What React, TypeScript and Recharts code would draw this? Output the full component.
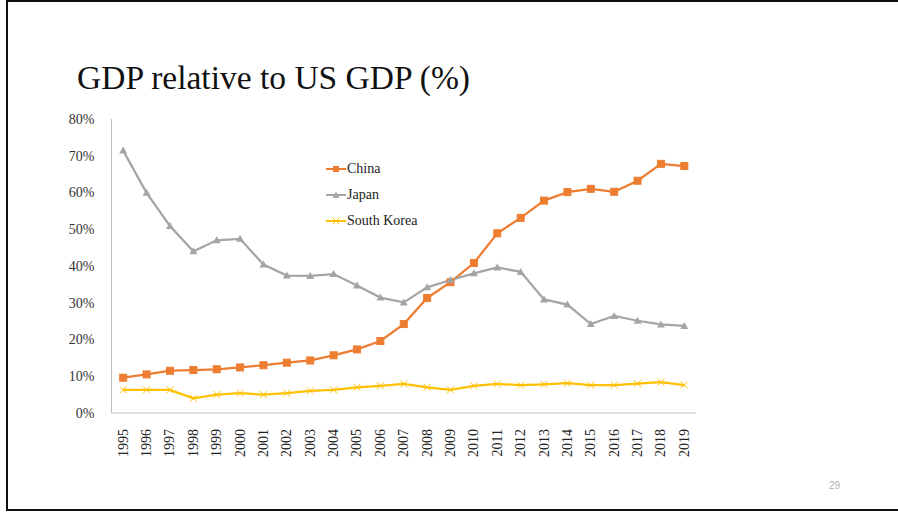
import React from "react";
import { LineChart, Line, XAxis, YAxis } from "recharts";

const years = [1995, 1996, 1997, 1998, 1999, 2000, 2001, 2002, 2003, 2004, 2005, 2006, 2007, 2008, 2009, 2010, 2011, 2012, 2013, 2014, 2015, 2016, 2017, 2018, 2019];
const china = [9.6, 10.5, 11.5, 11.7, 11.9, 12.4, 13.0, 13.7, 14.3, 15.7, 17.3, 19.6, 24.2, 31.3, 35.6, 40.8, 48.9, 53.1, 57.8, 60.1, 61.0, 60.2, 63.2, 67.8, 67.2];
const japan = [71.4, 59.9, 50.9, 44.0, 47.0, 47.4, 40.4, 37.4, 37.3, 37.8, 34.7, 31.4, 30.1, 34.2, 36.2, 38.0, 39.6, 38.4, 30.9, 29.5, 24.2, 26.4, 25.1, 24.1, 23.7];
const korea = [6.3, 6.3, 6.3, 4.0, 5.0, 5.4, 5.0, 5.4, 6.0, 6.3, 7.0, 7.4, 7.9, 7.0, 6.3, 7.4, 7.9, 7.6, 7.8, 8.1, 7.6, 7.6, 8.0, 8.4, 7.6];
const yTicks = [0, 10, 20, 30, 40, 50, 60, 70, 80];
const titleText = "GDP relative to US GDP (%)";
const pageNumber = "29";

const data = years.map((y, i) => ({ year: y, China: china[i], Japan: japan[i], "South Korea": korea[i] }));
const boundaryTicks = [years[0] - 0.5, ...years.map((y) => y + 0.5)];

const C_CHINA = "#ED7D31";
const C_JAPAN = "#A5A5A5";
const C_KOREA = "#FFC000";
const FONT = "'Liberation Serif', 'Times New Roman', serif";

const SquareDot = (props: any) => {
  const { cx, cy, index } = props;
  if (cx == null || cy == null) return <g key={index} />;
  return <rect key={index} x={cx - 3.5} y={cy - 3.5} width={7} height={7} fill={C_CHINA} stroke={C_CHINA} strokeWidth={1} />;
};
const TriDot = (props: any) => {
  const { cx, cy, index } = props;
  if (cx == null || cy == null) return <g key={index} />;
  return <polygon key={index} points={`${cx},${cy - 4} ${cx - 4},${cy + 3} ${cx + 4},${cy + 3}`} fill={C_JAPAN} />;
};
const XDot = (props: any) => {
  const { cx, cy, index } = props;
  if (cx == null || cy == null) return <g key={index} />;
  return (
    <path key={index} d={`M${cx - 3.5},${cy - 3.5}L${cx + 3.5},${cy + 3.5}M${cx - 3.5},${cy + 3.5}L${cx + 3.5},${cy - 3.5}`} stroke={C_KOREA} strokeWidth={1} fill="none" />
  );
};

const YearTick = (props: any) => {
  const { x, y, payload } = props;
  return (
    <text x={x} y={y + 2} transform={`rotate(-90, ${x}, ${y + 2})`} textAnchor="end" dominantBaseline="central" fontSize={14} fill="#222" fontFamily={FONT}>
      {payload.value}
    </text>
  );
};

const legendItems = [
  { name: "China", color: C_CHINA, kind: "square" },
  { name: "Japan", color: C_JAPAN, kind: "tri" },
  { name: "South Korea", color: C_KOREA, kind: "x" },
];

const LegendBox = () => (
  <div style={{ position: "absolute", left: 326, top: 156, fontFamily: FONT, fontSize: 14, color: "#222" }}>
    {legendItems.map((it) => (
      <div key={it.name} style={{ display: "flex", alignItems: "center", height: 26 }}>
        <svg width={20} height={10} style={{ marginRight: 1 }}>
          <line x1={0} y1={5} x2={20} y2={5} stroke={it.color} strokeWidth={2} />
          {it.kind === "square" && <rect x={7} y={2} width={6} height={6} fill={it.color} />}
          {it.kind === "tri" && <polygon points="10,1.5 6.5,8 13.5,8" fill={it.color} />}
          {it.kind === "x" && <path d="M6.5,1.5L13.5,8.5M6.5,8.5L13.5,1.5" stroke={it.color} strokeWidth={1} />}
        </svg>
        <span>{it.name}</span>
      </div>
    ))}
  </div>
);

export default function App() {
  return (
    <div style={{ position: "absolute", left: 0, top: 0, width: 898, height: 512, background: "#fff", overflow: "hidden" }}>
      <div style={{ position: "absolute", left: 6, top: 0, width: 900, height: 507, borderLeft: "2px solid #111", borderTop: "2px solid #111", borderBottom: "2px solid #111" }} />
      <div style={{ position: "absolute", left: 0, top: 0 }}>
        <LineChart width={898} height={512} data={data} margin={{ top: 119, right: 202, bottom: 40, left: 0 }}>
          <XAxis xAxisId="a" dataKey="year" type="number" domain={[years[0] - 0.5, years[years.length - 1] + 0.5]} ticks={boundaryTicks} tick={false} tickSize={6} height={6} stroke="#bfbfbf" interval={0} />
          <XAxis xAxisId="b" dataKey="year" type="number" domain={[years[0] - 0.5, years[years.length - 1] + 0.5]} ticks={years} tick={<YearTick />} tickLine={false} axisLine={false} height={53} interval={0} />
          <YAxis width={111.5} domain={[0, 80]} ticks={yTicks} tickFormatter={(v: number) => `${v}%`} tickLine={false} stroke="#bfbfbf" tick={{ fill: "#333", fontSize: 14, fontFamily: FONT }} tickMargin={11} interval={0} />
          <Line xAxisId="a" dataKey="China" stroke={C_CHINA} strokeWidth={2.25} dot={<SquareDot />} isAnimationActive={false} />
          <Line xAxisId="a" dataKey="Japan" stroke={C_JAPAN} strokeWidth={2.25} dot={<TriDot />} isAnimationActive={false} />
          <Line xAxisId="a" dataKey="South Korea" stroke={C_KOREA} strokeWidth={2.25} dot={<XDot />} isAnimationActive={false} />
        </LineChart>
      </div>
      <LegendBox />
      <div style={{ position: "absolute", left: 77, top: 56, fontFamily: FONT, fontSize: 33.5, color: "#111", whiteSpace: "nowrap", lineHeight: "44px" }}>{titleText}</div>
      <div style={{ position: "absolute", left: 829, top: 480, fontFamily: "'Liberation Sans', Arial, sans-serif", fontSize: 10, color: "#b0b0b0" }}>{pageNumber}</div>
    </div>
  );
}
